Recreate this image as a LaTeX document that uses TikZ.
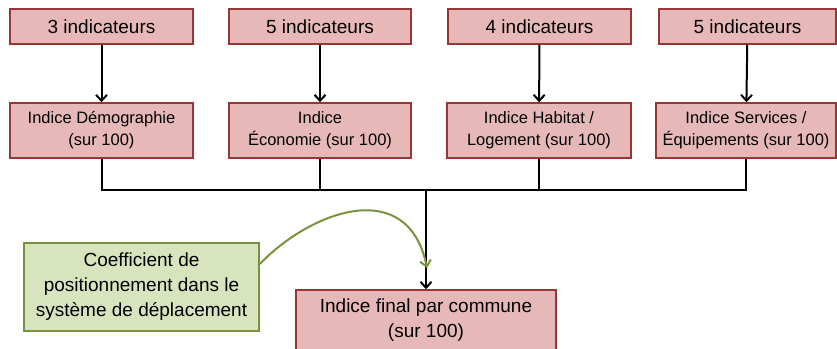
\documentclass[tikz,border=0pt]{standalone}
\usepackage{fontspec}
\setmainfont{Liberation Sans}
\usetikzlibrary{arrows.meta,calc}
\definecolor{pinkfill}{HTML}{E6B9B8}
\definecolor{pinkdraw}{HTML}{953735}
\definecolor{greenfill}{HTML}{D7E4BD}
\definecolor{greendraw}{HTML}{77933C}
\tikzset{
  topbox/.style={draw=pinkdraw, fill=pinkfill, line width=1.5pt, minimum height=35pt, inner sep=0pt,
    font=\fontsize{19}{23}\selectfont},
  midbox/.style={draw=pinkdraw, fill=pinkfill, line width=1.5pt, minimum height=55pt, inner sep=0pt,
    align=center, font=\fontsize{16.5}{22}\selectfont},
  finalbox/.style={draw=pinkdraw, fill=pinkfill, line width=1.5pt, minimum width=260pt, minimum height=60pt,
    inner sep=0pt, align=center, font=\fontsize{19}{25}\selectfont},
  greenbox/.style={draw=greendraw, fill=greenfill, line width=1.5pt, minimum width=235pt, minimum height=88pt,
    inner sep=0pt, align=center, font=\fontsize{19}{25}\selectfont},
  conn/.style={line width=2pt, -{Straight Barb[length=6pt,width=11pt]}},
  bus/.style={line width=2pt},
  gconn/.style={draw=greendraw, line width=2pt, -{Straight Barb[length=6pt,width=11pt]}}
}
\begin{document}
\begin{tikzpicture}[x=1pt,y=-1pt]
\useasboundingbox (0,0) rectangle (837,348);
% top row
\node[topbox, minimum width=183pt] (t1) at (101.5,26.5) {3 indicateurs};
\node[topbox, minimum width=182pt] (t2) at (320,26.5) {5 indicateurs};
\node[topbox, minimum width=183pt] (t3) at (539.5,26.5) {4 indicateurs};
\node[topbox, minimum width=177pt] (t4) at (747.5,26.5) {5 indicateurs};
% second row
\node[midbox, minimum width=183pt] (m1) at (101.5,130.5) {Indice Démographie\\(sur 100)};
\node[midbox, minimum width=182pt] (m2) at (320,130.5) {Indice\\Économie (sur 100)};
\node[midbox, minimum width=184pt] (m3) at (539,130.5) {Indice Habitat /\\Logement (sur 100)};
\node[midbox, minimum width=180pt] (m4) at (746,130.5) {Indice Services /\\Équipements (sur 100)};
% final and green
\node[finalbox] (f) at (426,320) {Indice final par commune\\(sur 100)};
\node[greenbox] (g) at (141.5,287) {Coefficient de\\positionnement dans le\\système de déplacement};
% arrows top -> mid
\draw[conn] (t1) -- (m1);
\draw[conn] (t2) -- (m2);
\draw[conn] (t3) -- (m3);
\draw[conn] (t4) -- (m4);
% bus
\coordinate (b1) at (m1.south |- 0,190);
\coordinate (b4) at (m4.south |- 0,190);
\coordinate (bc) at (f.north |- 0,190);
\draw[bus] (m1.south) -- (b1) -- (b4) -- (m4.south);
\draw[bus] (m2.south) -- (m2.south |- b1);
\draw[bus] (m3.south) -- (m3.south |- b1);
\draw[conn] (bc) -- (f.north);
% green curve
\coordinate (gs) at ($(g.east)+(0,-23)$);
\coordinate (ge) at (427,268);
\draw[gconn] (gs) .. controls (312,210) and (408,176) .. (ge);
\end{tikzpicture}
\end{document}
